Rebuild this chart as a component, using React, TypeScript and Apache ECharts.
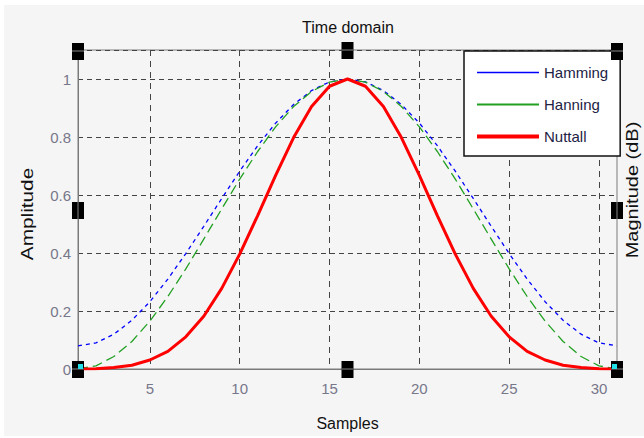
import React, { useEffect, useRef } from "react";
import * as echarts from "echarts";

const samples = [1, 2, 3, 4, 5, 6, 7, 8, 9, 10, 11, 12, 13, 14, 15, 16, 17, 18, 19, 20, 21, 22, 23, 24, 25, 26, 27, 28, 29, 30, 31];
const hamming = [0.08, 0.09, 0.12, 0.168, 0.232, 0.31, 0.398, 0.492, 0.588, 0.682, 0.77, 0.848, 0.912, 0.96, 0.99, 1.0, 0.99, 0.96, 0.912, 0.848, 0.77, 0.682, 0.588, 0.492, 0.398, 0.31, 0.232, 0.168, 0.12, 0.09, 0.08];
const hanning = [0, 0.011, 0.043, 0.095, 0.165, 0.25, 0.345, 0.448, 0.552, 0.655, 0.75, 0.835, 0.905, 0.957, 0.989, 1.0, 0.989, 0.957, 0.905, 0.835, 0.75, 0.655, 0.552, 0.448, 0.345, 0.25, 0.165, 0.095, 0.043, 0.011, 0];
const nuttall = [0.0, 0.001, 0.005, 0.013, 0.031, 0.061, 0.111, 0.182, 0.278, 0.396, 0.529, 0.668, 0.798, 0.905, 0.975, 1.0, 0.975, 0.905, 0.798, 0.668, 0.529, 0.396, 0.278, 0.182, 0.111, 0.061, 0.031, 0.013, 0.005, 0.001, 0.0];
const xTicks = [5, 10, 15, 20, 25, 30];
const seriesNames = ["Hamming", "Hanning", "Nuttall"];

const FONT = "'Liberation Sans', Arial, sans-serif";

function pairs(ys: number[]) {
  return samples.map((x, i) => [x, ys[i]]);
}

export default function App() {
  const ref = useRef<HTMLDivElement>(null);
  useEffect(() => {
    if (!ref.current) return;
    const chart = echarts.init(ref.current, null, { renderer: "svg" });
    const L = 78, T = 50, R = 617, B = 369;
    const midX = (L + R) / 2;
    const midY = 210;
    const handle = (cx: number, cy: number, horiz: boolean) => [
      { type: "rect", shape: { x: cx - 6, y: cy - 8, width: 12, height: 17 }, style: { fill: "#000" }, z: 100 },
      horiz
        ? { type: "line", shape: { x1: cx - 6, y1: cy, x2: cx + 6, y2: cy }, style: { stroke: "#888", lineWidth: 1 }, z: 101 }
        : { type: "line", shape: { x1: cx, y1: cy - 8, x2: cx, y2: cy + 9 }, style: { stroke: "#888", lineWidth: 1 }, z: 101 },
    ];
    chart.setOption({
      animation: false,
      backgroundColor: "transparent",
      textStyle: { fontFamily: FONT },
      title: {
        text: "Time domain",
        left: 343,
        top: 14,
        textAlign: "center",
        textStyle: { fontSize: 16, fontWeight: "normal", color: "#111", fontFamily: FONT },
      },
      grid: { left: L, top: T, width: R - L, height: B - T, show: true, borderColor: "#7a7a7a", borderWidth: 1, backgroundColor: "transparent" },
      legend: {
        orient: "vertical",
        left: 464,
        top: 51,
        padding: [14, 12, 12, 11],
        itemGap: 17,
        itemWidth: 62,
        itemHeight: 14,
        backgroundColor: "#ffffff",
        borderColor: "#111",
        borderWidth: 1.5,
        textStyle: { fontSize: 15, color: "#222244", fontFamily: FONT },
        data: [
          { name: "Hamming", itemStyle: { opacity: 0 }, lineStyle: { type: "solid", width: 1.5, color: "#0000ff" } },
          { name: "Hanning", itemStyle: { opacity: 0 }, lineStyle: { type: "solid", width: 2, color: "#22a022" } },
          { name: "Nuttall", itemStyle: { opacity: 0 }, lineStyle: { type: "solid", width: 4, color: "#ff0000" } },
        ],
      },
      xAxis: {
        type: "value",
        min: 1,
        max: 31,
        name: "Samples",
        nameLocation: "middle",
        nameGap: 46,
        nameTextStyle: { fontSize: 16, color: "#111", fontFamily: FONT },
        axisLine: { show: true, lineStyle: { color: "#7a7a7a", width: 1 } },
        axisTick: { show: false, customValues: xTicks },
        axisLabel: { customValues: xTicks, fontSize: 15, color: "#77778a", margin: 12, fontFamily: FONT },
        splitLine: { show: true, lineStyle: { color: "#444", type: [6, 5], width: 1 } },
      },
      yAxis: {
        type: "value",
        min: 0,
        max: 1.1,
        interval: 0.2,
        axisLine: { show: true, lineStyle: { color: "#7a7a7a", width: 1 } },
        axisTick: { show: false },
        axisLabel: { fontSize: 15, color: "#77778a", margin: 7, showMaxLabel: false, fontFamily: FONT },
        splitLine: { show: true, lineStyle: { color: "#444", type: [5, 4], width: 1 } },
      },
      series: [
        {
          name: seriesNames[0],
          type: "line",
          data: pairs(hamming),
          symbol: "none",
          z: 3,
          lineStyle: { color: "#0000ff", width: 1.3, type: [4, 4] },
          itemStyle: { color: "#0000ff" },
        },
        {
          name: seriesNames[1],
          type: "line",
          data: pairs(hanning),
          symbol: "none",
          z: 4,
          lineStyle: { color: "#22a022", width: 1.3, type: [10, 5] },
          itemStyle: { color: "#22a022" },
        },
        {
          name: seriesNames[2],
          type: "line",
          data: pairs(nuttall),
          symbol: "none",
          z: 5,
          lineStyle: { color: "#ff0000", width: 3 },
          itemStyle: { color: "#ff0000" },
        },
      ],
      graphic: [
        {
          type: "text",
          x: 27,
          y: 214,
          rotation: Math.PI / 2,
          scaleX: 1.3,
          style: { text: "Amplitude", fontSize: 16, fill: "#111", fontFamily: FONT, align: "center", verticalAlign: "middle" },
          z: 100,
        },
        {
          type: "text",
          x: 633,
          y: 190,
          rotation: Math.PI / 2,
          scaleX: 1.25,
          style: { text: "Magnitude (dB)", fontSize: 16, fill: "#111", fontFamily: FONT, align: "center", verticalAlign: "middle" },
          z: 100,
        },
        ...handle(L, T + 1, true),
        ...handle(midX, T, true),
        ...handle(R, T + 1, true),
        ...handle(L, midY, false),
        ...handle(R, midY, false),
        ...handle(L, B, true),
        ...handle(midX, B, true),
        ...handle(R, B, true),
        { type: "rect", shape: { x: L, y: B - 5, width: 5, height: 5 }, style: { fill: "#22e0e8" }, z: 102 },
        { type: "rect", shape: { x: R - 5, y: B - 5, width: 5, height: 5 }, style: { fill: "#22e0e8" }, z: 102 },
      ],
    });
    return () => chart.dispose();
  }, []);
  return (
    <div style={{ position: "absolute", left: 0, top: 0, width: 644, height: 438, background: "#ffffff" }}>
      <div style={{ position: "absolute", left: 4, top: 5, width: 640, height: 431, background: "#f5f5f5" }} />
      <div ref={ref} style={{ position: "absolute", left: 0, top: 0, width: 644, height: 438 }} />
    </div>
  );
}
